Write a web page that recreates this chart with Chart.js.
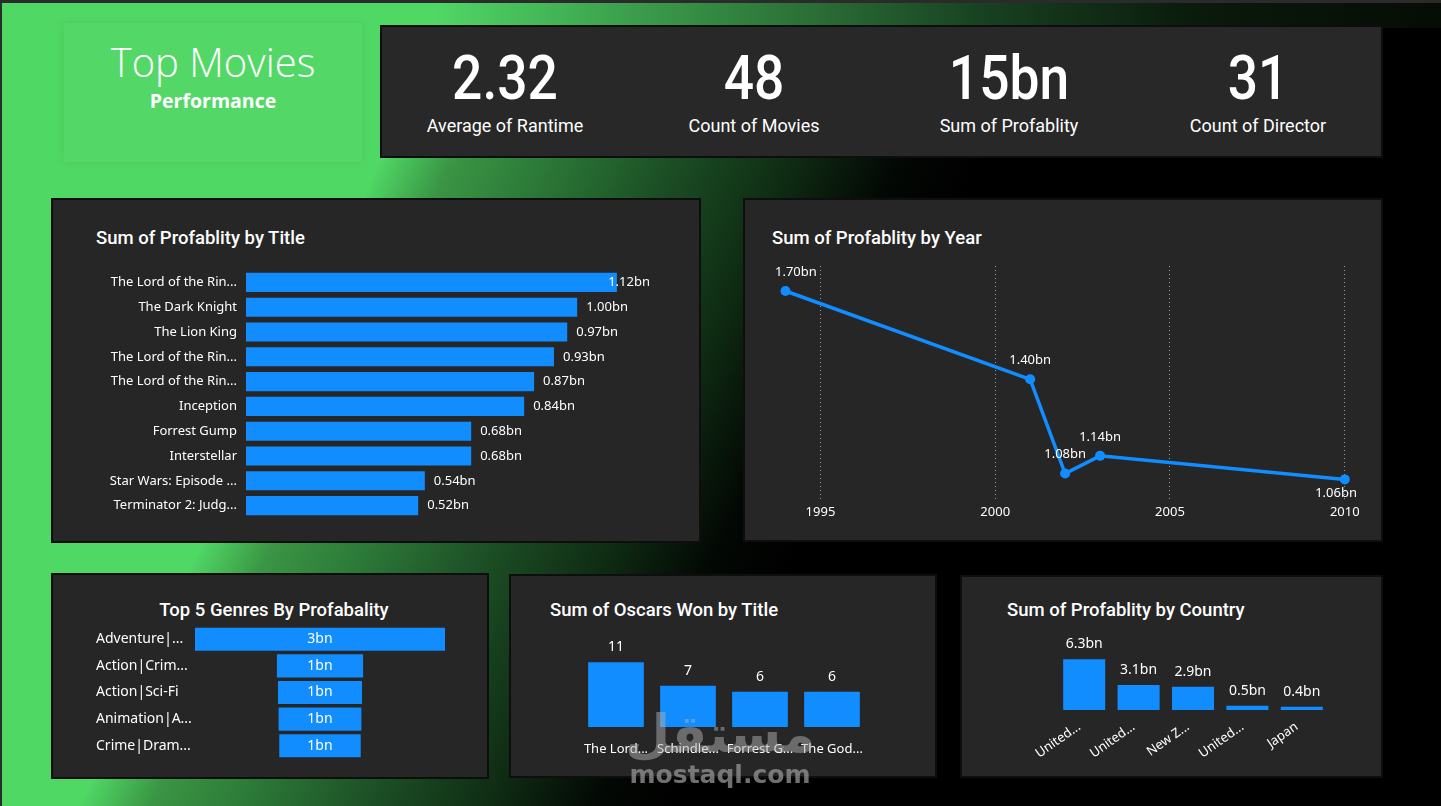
<!DOCTYPE html>
<html><head><meta charset="utf-8">
<script src="https://cdn.jsdelivr.net/npm/chart.js@4.4.1/dist/chart.umd.min.js"></script>
<style>
html,body{margin:0;padding:0;}
body{width:1441px;height:806px;overflow:hidden;position:relative;
 background:linear-gradient(115deg,#50d865 0%,#50d865 25%,#3a9544 29%,#2c7a38 34%,#1c4f25 41%,#0e2a12 48%,#030804 53.5%,#000 58%);
 font-family:'Noto Sans',sans-serif;color:#fff;}
.topStrip{position:absolute;left:0;top:0;width:1441px;height:28px;
 background:linear-gradient(90deg,#50d865 0%,#50d865 30%,#3a9a4a 44.7%,#2a6d35 56.7%,#174020 68.6%,#0a1a0c 83%,#060c06 100%);}
.frameTop{position:absolute;left:0;top:0;width:1441px;height:3px;background:#2b2b2b;}
.frameLeft{position:absolute;left:0;top:0;width:2px;height:806px;background:#2b2b2b;}
.panel{position:absolute;background:#262626;border:2px solid #0e0e0e;box-sizing:border-box;}
.titleBox{position:absolute;left:64px;top:23px;width:298px;height:139px;background:rgba(255,255,255,0.02);box-shadow:0 0 10px rgba(0,0,0,0.07);}
.bigTitle{position:absolute;left:64px;width:298px;text-align:center;top:36px;font-family:'Open Sans',Roboto,sans-serif;font-weight:300;font-size:40px;line-height:52px;color:#fff;}
.subTitle{position:absolute;left:64px;width:298px;text-align:center;top:89px;font-family:'Open Sans',Roboto,sans-serif;font-weight:700;font-size:19.5px;line-height:24px;color:#fff;}
.kpiVal{position:absolute;width:240px;text-align:center;top:44px;font-family:Roboto,sans-serif;font-weight:500;font-size:62px;line-height:68px;transform:scaleX(0.86);}
.kpiLab{position:absolute;width:240px;text-align:center;top:114px;font-family:Roboto,sans-serif;font-weight:400;font-size:18px;line-height:24px;}
.ctitle{position:absolute;font-family:Roboto,sans-serif;font-weight:500;font-size:18.5px;line-height:20px;color:#fff;white-space:nowrap;}
canvas{position:absolute;}
.wm1{position:absolute;left:600px;width:240px;text-align:center;top:702px;font-family:'DejaVu Sans',sans-serif;font-weight:bold;font-size:52px;line-height:64px;color:rgba(175,175,175,0.5);z-index:5;}
.wm2{position:absolute;left:600px;width:240px;text-align:center;top:759px;font-family:'DejaVu Sans',sans-serif;font-weight:bold;font-size:25px;line-height:32px;color:rgba(150,150,150,0.75);z-index:5;}
</style></head>
<body>
<div class="topStrip"></div>
<div class="frameTop"></div><div class="frameLeft"></div>
<div class="titleBox"></div>
<div class="bigTitle">Top Movies</div>
<div class="subTitle">Performance</div>

<div class="panel" style="left:380px;top:25px;width:1003px;height:133px;background:#282828;"></div>
<div id="kpis"></div>

<div class="panel" style="left:51px;top:198px;width:650px;height:345px;"></div>
<div class="ctitle" style="left:96px;top:228px;">Sum of Profablity by Title</div>
<canvas id="c1" width="590" height="248" style="left:60px;top:270px;"></canvas>

<div class="panel" style="left:743px;top:198px;width:640px;height:344px;"></div>
<div class="ctitle" style="left:772px;top:228px;">Sum of Profablity by Year</div>
<canvas id="c2" width="625" height="285" style="left:750px;top:240px;"></canvas>

<div class="panel" style="left:51px;top:573px;width:438px;height:206px;"></div>
<div class="ctitle" style="left:51px;width:438px;text-align:center;top:600px;margin-left:4px;">Top 5 Genres By Profabality</div>
<canvas id="c3" width="349" height="133" style="left:96px;top:626px;"></canvas>

<div class="panel" style="left:509px;top:574px;width:428px;height:204px;"></div>
<div class="ctitle" style="left:550px;top:600px;">Sum of Oscars Won by Title</div>
<canvas id="c4" width="298" height="137" style="left:575px;top:630px;"></canvas>

<div class="panel" style="left:960px;top:575px;width:423px;height:203px;"></div>
<div class="ctitle" style="left:1007px;top:600px;">Sum of Profablity by Country</div>
<canvas id="c5" width="345" height="135" style="left:995px;top:630px;"></canvas>

<div class="wm1">مستقل</div>
<div class="wm2">mostaql.com</div>

<script>
// ---------- DATA ----------
const kpiValues = ['2.32', '48', '15bn', '31'];
const kpiLabels = ['Average of Rantime', 'Count of Movies', 'Sum of Profablity', 'Count of Director'];

const titleCategories = ['The Lord of the Rin...', 'The Dark Knight', 'The Lion King', 'The Lord of the Rin...', 'The Lord of the Rin...', 'Inception', 'Forrest Gump', 'Interstellar', 'Star Wars: Episode ...', 'Terminator 2: Judg...'];
const titleProfit = [1.12, 1.00, 0.97, 0.93, 0.87, 0.84, 0.68, 0.68, 0.54, 0.52];

const years = [1994, 2001, 2002, 2003, 2010];
const yearProfit = [1.70, 1.40, 1.08, 1.14, 1.06];
const yearTicks = [1995, 2000, 2005, 2010];

const genreCategories = ['Adventure|...', 'Action|Crim...', 'Action|Sci-Fi', 'Animation|A...', 'Crime|Dram...'];
const genreProfit = [2.90, 1.00, 0.975, 0.96, 0.945];

const oscarCategories = ['The Lord...', 'Schindle...', 'Forrest G...', 'The God...'];
const oscarsWon = [11, 7, 6, 6];

const countryCategories = ['United...', 'United...', 'New Z...', 'United...', 'Japan'];
const countryProfit = [6.3, 3.1, 2.9, 0.52, 0.41];

// ---------- KPIs ----------
const kpiCenters = [505, 754, 1009, 1258];
const kpiDiv = document.getElementById('kpis');
kpiValues.forEach((v, i) => {
  const a = document.createElement('div'); a.className = 'kpiVal'; a.textContent = v;
  a.style.left = (kpiCenters[i] - 120) + 'px'; kpiDiv.appendChild(a);
  const b = document.createElement('div'); b.className = 'kpiLab'; b.textContent = kpiLabels[i];
  b.style.left = (kpiCenters[i] - 120) + 'px'; kpiDiv.appendChild(b);
});

// ---------- CHART SETUP ----------
const BLUE = '#118DFF';
const LABEL_FONT = "13px 'Noto Sans'";
Chart.defaults.animation = false;
Chart.defaults.responsive = false;
Chart.defaults.color = '#ffffff';
Chart.defaults.font.family = "'Noto Sans', sans-serif";
Chart.defaults.font.size = 13;
Chart.defaults.plugins.legend.display = false;
Chart.defaults.plugins.tooltip.enabled = false;

const zeroPad = s => { s.paddingTop = 0; s.paddingBottom = 0; s.paddingLeft = 0; s.paddingRight = 0; };

const valueLabels = {
  id: 'valueLabels',
  afterDatasetsDraw(chart, args, opts) {
    const {ctx, chartArea} = chart;
    const meta = chart.getDatasetMeta(0);
    ctx.save();
    ctx.font = opts.font || LABEL_FONT;
    ctx.fillStyle = opts.color || '#fff';
    ctx.textAlign = 'left';
    ctx.textBaseline = 'middle';
    const n = meta.data.length;
    meta.data.forEach((el, i) => {
      const txt = opts.format(opts.values[i]);
      const w = ctx.measureText(txt).width;
      const mode = typeof opts.position === 'function' ? opts.position(i, n) : opts.position;
      let x, y;
      if (mode === 'right') {
        x = el.x + opts.offset; y = el.y;
        if (x + w > chartArea.right) x = chartArea.right - w;
      } else if (mode === 'center') {
        x = (el.x + el.base) / 2 - w / 2; y = el.y;
      } else if (mode === 'top') {
        x = el.x - w / 2; y = el.y - opts.offset;
      } else {
        x = el.x - w / 2;
        y = mode === 'below' ? el.y + opts.offsetBelow : el.y - opts.offset;
        x = Math.max(chartArea.left, Math.min(chartArea.right - w, x));
      }
      ctx.fillText(txt, x, y);
    });
    ctx.restore();
  }
};
const bn2 = v => v.toFixed(2) + 'bn';

// Chart 1: Sum of Profablity by Title
new Chart(document.getElementById('c1'), {
  type: 'bar',
  data: { labels: titleCategories, datasets: [{ data: titleProfit, backgroundColor: BLUE, barPercentage: 0.77, categoryPercentage: 1 }] },
  options: {
    indexAxis: 'y',
    layout: { padding: 0, autoPadding: false },
    scales: {
      x: { display: false, min: 0, max: 1.22 },
      y: { grid: { display: false, drawTicks: false }, border: { display: false },
           ticks: { color: '#fff', font: { size: 13 }, padding: 9, autoSkip: false },
           afterFit: s => { s.width = 186; zeroPad(s); } }
    },
    plugins: { valueLabels: { values: titleProfit, format: bn2, position: 'right', offset: 9 } }
  },
  plugins: [valueLabels]
});

// Chart 2: Sum of Profablity by Year
new Chart(document.getElementById('c2'), {
  type: 'line',
  data: { datasets: [{ data: years.map((y, i) => ({ x: y, y: yearProfit[i] })),
    borderColor: BLUE, backgroundColor: BLUE, borderWidth: 3.5, pointRadius: 5, pointBackgroundColor: BLUE, pointBorderWidth: 0, tension: 0 }] },
  options: {
    layout: { padding: { left: 25, right: 18, top: 26, bottom: 0 }, autoPadding: false },
    scales: {
      x: { type: 'linear', min: 1993.7, max: 2010.35,
           afterBuildTicks: s => { s.ticks = yearTicks.map(v => ({ value: v })); },
           grid: { color: '#9a9a9a', lineWidth: 1, drawTicks: false },
           border: { display: false, dash: [1, 3] },
           ticks: { color: '#fff', font: { size: 13 }, padding: 4, callback: v => String(v) },
           afterFit: s => { s.height = 25; zeroPad(s); } },
      y: { display: false, min: 0.99, max: 1.785 }
    },
    plugins: { valueLabels: { values: yearProfit, format: bn2,
      position: (i, n) => i === n - 1 ? 'below' : 'above', offset: 19, offsetBelow: 14 } }
  },
  plugins: [valueLabels]
});

// Chart 3: Top 5 Genres (funnel)
const genreMax = Math.max(...genreProfit);
new Chart(document.getElementById('c3'), {
  type: 'bar',
  data: { labels: genreCategories, datasets: [{ data: genreProfit.map(v => [-v / 2, v / 2]), backgroundColor: BLUE, barPercentage: 0.87, categoryPercentage: 1 }] },
  options: {
    indexAxis: 'y',
    layout: { padding: 0, autoPadding: false },
    scales: {
      x: { display: false, min: -genreMax / 2, max: genreMax / 2 },
      y: { grid: { display: false, drawTicks: false }, border: { display: false },
           ticks: { color: '#fff', font: { size: 14 }, crossAlign: 'far', padding: 0, autoSkip: false },
           afterFit: s => { s.width = 99; zeroPad(s); } }
    },
    plugins: { valueLabels: { values: genreProfit, format: v => Math.round(v) + 'bn', position: 'center', font: "14px 'Noto Sans'" } }
  },
  plugins: [valueLabels]
});

// Chart 4: Oscars Won by Title
new Chart(document.getElementById('c4'), {
  type: 'bar',
  data: { labels: oscarCategories, datasets: [{ data: oscarsWon, backgroundColor: BLUE, barPercentage: 0.774, categoryPercentage: 1 }] },
  options: {
    layout: { padding: { left: 5, right: 5, top: 24, bottom: 0 }, autoPadding: false },
    scales: {
      x: { grid: { display: false, drawTicks: false }, border: { display: false },
           ticks: { color: '#fff', font: { size: 13 }, padding: 14, maxRotation: 0, minRotation: 0, autoSkip: false },
           afterFit: s => { s.height = 40; zeroPad(s); } },
      y: { display: false, min: 0, max: 12.4 }
    },
    plugins: { valueLabels: { values: oscarsWon, format: v => String(v), position: 'top', offset: 15, font: "14px 'Noto Sans'" } }
  },
  plugins: [valueLabels]
});

// Chart 5: Profablity by Country
new Chart(document.getElementById('c5'), {
  type: 'bar',
  data: { labels: countryCategories, datasets: [{ data: countryProfit, backgroundColor: BLUE, barPercentage: 0.773, categoryPercentage: 1 }] },
  options: {
    layout: { padding: { left: 62, right: 11, top: 24, bottom: 0 }, autoPadding: false },
    scales: {
      x: { grid: { display: false, drawTicks: false }, border: { display: false },
           ticks: { color: '#fff', font: { size: 13 }, padding: 9, labelOffset: -5, maxRotation: 35, minRotation: 35, autoSkip: false },
           afterFit: s => { s.height = 55; zeroPad(s); } },
      y: { display: false, min: 0, max: 6.95 }
    },
    plugins: { valueLabels: { values: countryProfit, format: v => v.toFixed(1) + 'bn', position: 'top', offset: 15, font: "14px 'Noto Sans'" } }
  },
  plugins: [valueLabels]
});
</script>
</body></html>
